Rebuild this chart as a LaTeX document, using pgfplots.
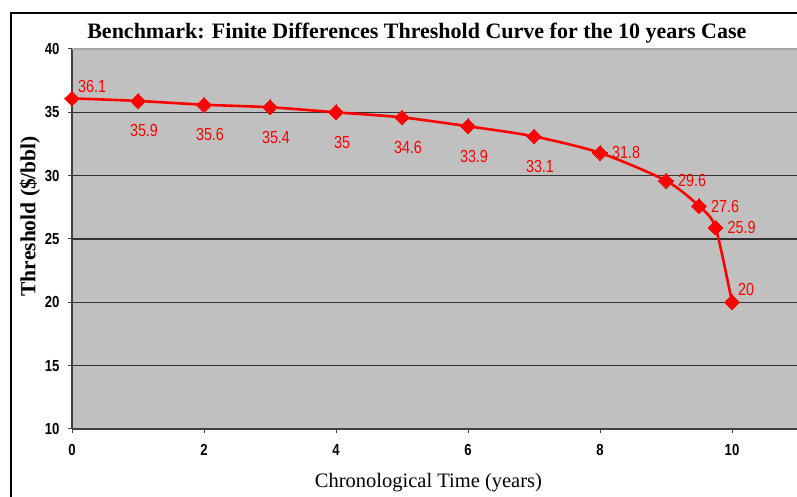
\documentclass[border=0pt]{standalone}
\usepackage{pgfplots}
\usepackage{pgfplotstable}
\pgfplotsset{compat=1.18}
\usepackage{fontspec}
\setmainfont{Liberation Serif}
\newfontfamily\narrow[FakeStretch=0.82]{Liberation Sans}

\definecolor{plotbg}{RGB}{192,192,192}
\definecolor{xlred}{RGB}{255,0,0}

% threshold curve, finite differences benchmark
\pgfplotstableread{
x     y     lbl
0     36.1  36.1
1     35.9  35.9
2     35.6  35.6
3     35.4  35.4
4     35.0  35
5     34.6  34.6
6     33.9  33.9
7     33.1  33.1
8     31.8  31.8
9     29.6  29.6
9.5   27.6  27.6
9.75  25.9  25.9
10    20.0  20
}\thresh

\pgfplotstableread{
x  y     lbl
0  36.1  36.1
10 20.0  20
}\labAbove

\pgfplotstableread{
x  y     lbl
1  35.9  35.9
2  35.6  35.6
3  35.4  35.4
4  35.0  35
5  34.6  34.6
6  33.9  33.9
7  33.1  33.1
}\labBelow

\pgfplotstableread{
x     y     lbl
8     31.8  31.8
9     29.6  29.6
9.5   27.6  27.6
9.75  25.9  25.9
}\labRight

\begin{document}
\begin{tikzpicture}
\useasboundingbox (0,0) rectangle (797pt,497pt);
\fill[white] (0,0) rectangle (797pt,497pt);
\draw[line width=2.2pt] (11pt,0pt) -- (11pt,483.7pt);
\draw[line width=2.2pt] (10pt,483.7pt) -- (797pt,483.7pt);
\begin{axis}[
  at={(72pt,68pt)}, anchor=south west,
  scale only axis,
  width=726pt, height=380pt,
  xmin=0, xmax=11, ymin=10, ymax=40,
  clip=false,
  axis background/.style={fill=plotbg},
  axis x line=bottom, axis y line=left,
  axis line style={draw=black!75, line width=1.2pt, -},
  xtick={0,2,...,10},
  ytick={10,15,...,35},
  extra y ticks={40},
  extra y tick style={grid style={draw=black!35, line width=1.2pt}},
  ymajorgrids,
  grid style={draw=black!80, line width=1.1pt},
  tick align=outside,
  major tick length=4pt,
  tick style={draw=black!75, line width=1pt},
  xticklabel style={font=\narrow\bfseries\fontsize{16}{16}\selectfont, yshift=-8pt},
  yticklabel style={font=\narrow\bfseries\fontsize{16}{16}\selectfont, xshift=-5pt},
  /pgf/number format/assume math mode=true,
  title={Benchmark: Finite Differences Threshold Curve for the 10 years Case},
  title style={font=\bfseries\fontsize{22}{22}\selectfont, at={(rel axis cs:0.475,1)}, anchor=center, yshift=10pt},
  xlabel={Chronological Time (years)},
  xlabel style={font=\fontsize{20.5}{20.5}\selectfont, at={(rel axis cs:0.491,0)}, anchor=center, yshift=-54pt},
  ylabel={Threshold (\$/bbl)},
  ylabel style={font=\bfseries\fontsize{21.5}{21.5}\selectfont, at={(rel axis cs:0,0.56)}, anchor=center, yshift=42pt},
  point meta=explicit symbolic,
  every node near coord/.append style={font=\narrow\fontsize{17.5}{17.5}\selectfont, text=xlred, inner sep=0pt},
]
\addplot[xlred, line width=2.6pt, smooth, tension=0.45,
  mark=square*, mark size=5.2pt, mark options={rotate=45, fill=xlred, draw=xlred, line width=0pt}]
  table[x=x, y=y] {\thresh};

\addplot[draw=none, mark=none, nodes near coords,
  every node near coord/.append style={anchor=south west, xshift=6pt, yshift=6pt}]
  table[x=x, y=y, meta=lbl] {\labAbove};
\addplot[draw=none, mark=none, nodes near coords,
  every node near coord/.append style={anchor=center, xshift=6pt, yshift=-30pt}]
  table[x=x, y=y, meta=lbl] {\labBelow};
\addplot[draw=none, mark=none, nodes near coords,
  every node near coord/.append style={anchor=west, xshift=12pt, yshift=0pt}]
  table[x=x, y=y, meta=lbl] {\labRight};
\end{axis}
\end{tikzpicture}
\end{document}
